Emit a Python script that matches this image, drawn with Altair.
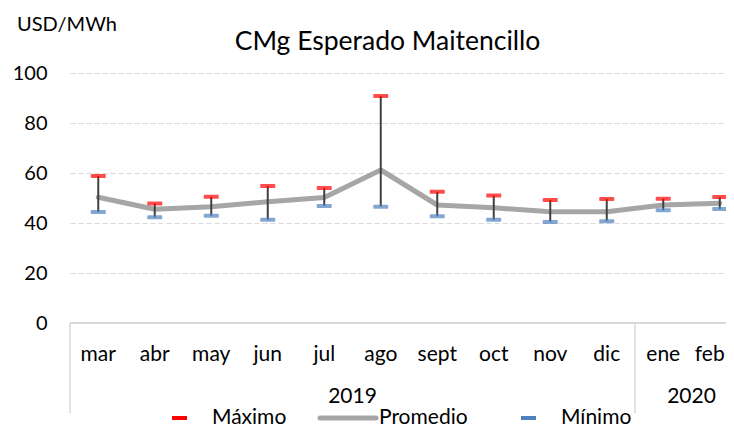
import altair as alt
import pandas as pd

months = ["mar", "abr", "may", "jun", "jul", "ago", "sept", "oct", "nov", "dic", "ene", "feb"]
years = ["2019"] * 10 + ["2020"] * 2
maximo = [58.8, 47.8, 50.5, 54.8, 54.0, 90.8, 52.5, 51.0, 49.2, 49.6, 49.7, 50.4]
promedio = [50.3, 45.5, 46.5, 48.5, 50.2, 61.2, 47.2, 46.1, 44.5, 44.5, 47.2, 47.9]
minimo = [44.4, 42.3, 42.9, 41.3, 46.8, 46.5, 42.7, 41.3, 40.4, 40.7, 45.1, 45.6]
y_ticks = [0, 20, 40, 60, 80, 100]
title_text = "CMg Esperado Maitencillo"
unit_text = "USD/MWh"
legend_labels = ["Máximo", "Promedio", "Mínimo"]

FONT = "Lato"
W, H = 656, 250
BAND = 56.5
N = len(months)

df = pd.DataFrame({
    "mes": months,
    "anio": years,
    "pos": [i + 0.5 for i in range(N)],
    "max": maximo,
    "prom": promedio,
    "min": minimo,
})

xs = alt.Scale(domain=[0, W / BAND], nice=False, zero=False)
ys = alt.Scale(domain=[0, 100], nice=False)
X = alt.X("pos:Q", scale=xs, axis=None)

base = alt.Chart(df)

line = base.mark_line(color="#a6a6a6", strokeWidth=5, strokeCap="round", strokeJoin="round").encode(
    x=X,
    y=alt.Y("prom:Q", scale=ys, title=None,
            axis=alt.Axis(values=y_ticks, grid=True, gridDash=[5, 3], gridColor="#d9d9d9",
                          gridWidth=1, domain=False, ticks=False, labelPadding=23,
                          labelFontSize=20, labelFont=FONT, labelColor="#000000")),
)

err = base.mark_rule(color="#404040", strokeWidth=2).encode(x=X, y=alt.Y("min:Q", scale=ys), y2="max:Q")
cap_max = base.mark_tick(color="#ff0000", size=15, thickness=4, cornerRadius=1, orient="horizontal").encode(
    x=X, y=alt.Y("max:Q", scale=ys))
cap_min = base.mark_tick(color="#4f81bd", size=15, thickness=4, cornerRadius=1, orient="horizontal").encode(
    x=X, y=alt.Y("min:Q", scale=ys))

xaxis_line = base.mark_rule(color="#d9d9d9", strokeWidth=1.5).encode(
    x=alt.value(0), x2=alt.value(W), y=alt.value(H))

month_lbl = base.transform_filter(f"datum.pos < {N - 1}").mark_text(
    fontSize=21, font=FONT, color="#000000", baseline="middle").encode(
    x=X, y=alt.value(282), text="mes:N")
# last label nudged left so it stays inside the picture
month_last = base.transform_filter(f"datum.pos > {N - 1}").mark_text(
    fontSize=21, font=FONT, color="#000000", baseline="middle", dx=-10).encode(
    x=X, y=alt.value(282), text="mes:N")

year_lbl = base.transform_aggregate(c="mean(pos)", groupby=["anio"]).mark_text(
    fontSize=21, font=FONT, color="#000000", baseline="middle").encode(
    x=alt.X("c:Q", scale=xs, axis=None), y=alt.value(324), text="anio:N")

sep = base.transform_aggregate(p="min(pos)", groupby=["anio"]).transform_calculate(
    b="datum.p - 0.5").mark_rule(color="#d9d9d9", strokeWidth=1.5).encode(
    x=alt.X("b:Q", scale=xs, axis=None), y=alt.value(H), y2=alt.value(340))

one = pd.DataFrame({"k": [0]})
title = alt.Chart(one).mark_text(fontSize=26.5, font=FONT, color="#000000", align="center",
                                 baseline="alphabetic").encode(
    x=alt.value(317.5), y=alt.value(-23), text=alt.value(title_text))
unit = alt.Chart(one).mark_text(fontSize=20, font=FONT, color="#000000", align="left",
                                baseline="alphabetic").encode(
    x=alt.value(-53), y=alt.value(-42), text=alt.value(unit_text))

LY = 345
leg_max = alt.Chart(one).mark_rule(color="#ff0000", strokeWidth=4).encode(
    x=alt.value(102), x2=alt.value(117), y=alt.value(LY))
leg_prom = alt.Chart(one).mark_rule(color="#a6a6a6", strokeWidth=5, strokeCap="round").encode(
    x=alt.value(250), x2=alt.value(306), y=alt.value(LY))
leg_min = alt.Chart(one).mark_rule(color="#4f81bd", strokeWidth=4).encode(
    x=alt.value(451), x2=alt.value(466), y=alt.value(LY))
leg_txt = [
    alt.Chart(one).mark_text(fontSize=21, font=FONT, color="#000000", align="left", baseline="middle").encode(
        x=alt.value(px), y=alt.value(LY), text=alt.value(lbl))
    for px, lbl in zip([142, 309, 491], legend_labels)
]

chart = alt.layer(
    xaxis_line, sep, line, err, cap_max, cap_min, month_lbl, month_last, year_lbl, title, unit,
    leg_max, leg_prom, leg_min, *leg_txt
).properties(
    width=W, height=H,
    autosize=alt.AutoSizeParams(type="none"),
    padding={"left": 62, "top": 65, "right": 0, "bottom": 105},
).configure_view(stroke=None)

chart.save("out.html", embed_options={"renderer": "svg", "actions": False})
